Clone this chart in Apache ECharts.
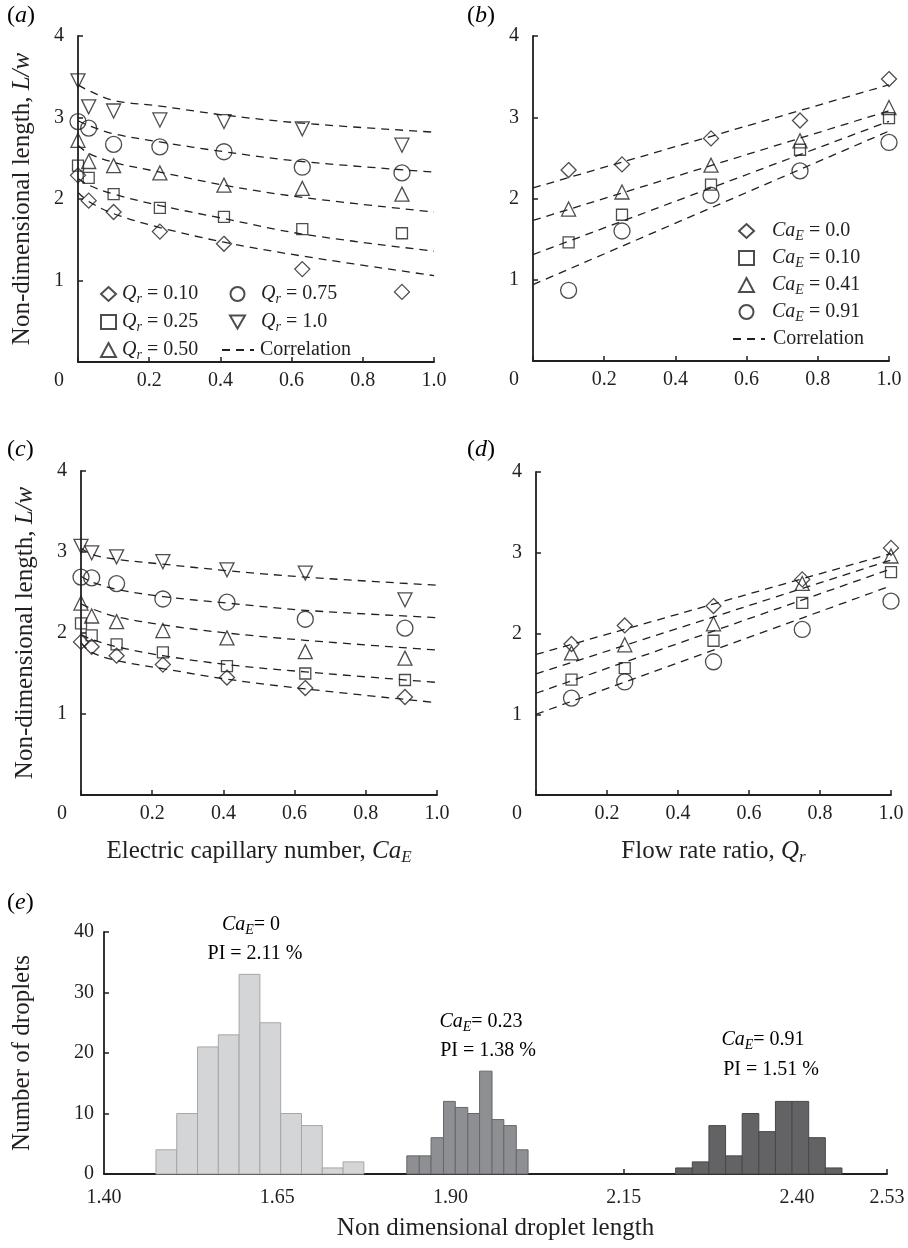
<!DOCTYPE html>
<html><head><meta charset="utf-8">
<script src="https://cdn.jsdelivr.net/npm/echarts@6/dist/echarts.min.js"></script>
<style>html,body{margin:0;padding:0;background:#fff}#c{width:908px;height:1248px}</style>
</head><body><div id="c"></div>
<script>
// ---------- DATA ----------
const caE = [0, 0.03, 0.10, 0.23, 0.41, 0.63, 0.91];
const corrCaE = [0, 0.03, 0.10, 0.23, 0.41, 0.63, 1.0];
const qr = [0.10, 0.25, 0.50, 0.75, 1.0];
const corrQr = [0, 1.0];

// panel (a): L/w vs Ca_E for Qr series
const aQ010 = [2.29, 1.98, 1.84, 1.60, 1.45, 1.14, 0.86];
const aQ025 = [2.41, 2.26, 2.06, 1.89, 1.78, 1.63, 1.58];
const aQ050 = [2.72, 2.46, 2.41, 2.32, 2.17, 2.13, 2.06];
const aQ075 = [2.95, 2.87, 2.67, 2.64, 2.58, 2.39, 2.32];
const aQ100 = [3.45, 3.13, 3.08, 2.97, 2.95, 2.86, 2.66];
const aC010 = [2.08, 1.97, 1.82, 1.65, 1.47, 1.30, 1.06];
const aC025 = [2.25, 2.17, 2.06, 1.92, 1.76, 1.57, 1.36];
const aC050 = [2.66, 2.56, 2.45, 2.33, 2.17, 2.02, 1.84];
const aC075 = [2.96, 2.90, 2.80, 2.70, 2.58, 2.46, 2.33];
const aC100 = [3.40, 3.33, 3.21, 3.14, 3.03, 2.93, 2.82];

// panel (b): L/w vs Qr for Ca_E series
const bCa000 = [2.35, 2.42, 2.74, 2.96, 3.47];
const bCa010 = [1.46, 1.80, 2.17, 2.60, 2.99];
const bCa041 = [1.87, 2.08, 2.41, 2.71, 3.12];
const bCa091 = [0.87, 1.60, 2.04, 2.34, 2.69];
const bC1 = [2.13, 3.40];
const bC2 = [1.73, 3.08];
const bC3 = [1.31, 2.95];
const bC4 = [0.94, 2.83];

// panel (c)
const cQ010 = [1.89, 1.83, 1.72, 1.61, 1.45, 1.32, 1.21];
const cQ025 = [2.12, 1.97, 1.86, 1.76, 1.59, 1.50, 1.42];
const cQ050 = [2.37, 2.21, 2.14, 2.03, 1.94, 1.77, 1.69];
const cQ075 = [2.69, 2.68, 2.61, 2.42, 2.38, 2.17, 2.06];
const cQ100 = [3.07, 2.99, 2.94, 2.88, 2.78, 2.74, 2.41];
const cC010 = [1.88, 1.76, 1.66, 1.56, 1.43, 1.31, 1.14];
const cC025 = [1.98, 1.92, 1.83, 1.72, 1.61, 1.52, 1.39];
const cC050 = [2.36, 2.30, 2.20, 2.10, 2.00, 1.91, 1.79];
const cC075 = [2.70, 2.63, 2.54, 2.45, 2.37, 2.28, 2.19];
const cC100 = [3.05, 2.97, 2.91, 2.85, 2.77, 2.69, 2.59];

// panel (d)
const dCa000 = [1.87, 2.10, 2.34, 2.67, 3.06];
const dCa010 = [1.43, 1.57, 1.91, 2.38, 2.76];
const dCa041 = [1.76, 1.86, 2.12, 2.62, 2.96];
const dCa091 = [1.20, 1.40, 1.65, 2.05, 2.40];
const dC1 = [1.74, 2.99];
const dC2 = [1.50, 2.91];
const dC3 = [1.26, 2.80];
const dC4 = [1.00, 2.59];

// panel (e): histograms (bin edges and counts)
const eEdges0 = [1.475, 1.505, 1.535, 1.565, 1.595, 1.625, 1.655, 1.685, 1.715, 1.745, 1.775];
const eCounts0 = [4, 10, 21, 23, 33, 25, 10, 8, 1, 2];
const eEdges23 = [1.837, 1.855, 1.872, 1.890, 1.907, 1.925, 1.942, 1.960, 1.977, 1.995, 2.012];
const eCounts23 = [3, 3, 6, 12, 11, 10, 17, 9, 8, 4];
const eEdges91 = [2.225, 2.249, 2.273, 2.297, 2.321, 2.345, 2.369, 2.393, 2.417, 2.441, 2.465];
const eCounts91 = [1, 2, 8, 3, 10, 7, 12, 12, 6, 1];
const eTickLabels = [1.40, 1.65, 1.90, 2.15, 2.40, 2.53];

// ---------- STYLE ----------
const F = "'Liberation Serif', 'Times New Roman', serif";
const C = '#231f20';
const richSmall = {
  n: {fontFamily: F, fontSize: 20, color: C},
  i: {fontFamily: F, fontSize: 20, fontStyle: 'italic', color: C},
  s: {fontFamily: F, fontSize: 14, fontStyle: 'italic', color: C, padding: [10, 0, 0, 0]}
};
const richBig = {
  n: {fontFamily: F, fontSize: 25, color: C},
  i: {fontFamily: F, fontSize: 25, fontStyle: 'italic', color: C},
  s: {fontFamily: F, fontSize: 17, fontStyle: 'italic', color: C, padding: [12, 0, 0, 0]}
};
const richPanel = {
  n: {fontFamily: F, fontSize: 24, color: C},
  i: {fontFamily: F, fontSize: 24, fontStyle: 'italic', color: C}
};

const pair = (xs, ys) => xs.map((x, i) => [x, ys[i]]);
const bins = (edges, counts) => counts.map((c, i) => [edges[i], edges[i + 1], c]);

const markers = {
  'Qr0.10': {symbol: 'diamond', size: 15, rot: 0},
  'Qr0.25': {symbol: 'rect', size: 11, rot: 0},
  'Qr0.50': {symbol: 'triangle', size: 14, rot: 0},
  'Qr0.75': {symbol: 'circle', size: 16, rot: 0},
  'Qr1.0': {symbol: 'triangle', size: 14, rot: 180},
  'Ca0.0': {symbol: 'diamond', size: 15, rot: 0},
  'Ca0.10': {symbol: 'rect', size: 11, rot: 0},
  'Ca0.41': {symbol: 'triangle', size: 14, rot: 0},
  'Ca0.91': {symbol: 'circle', size: 16, rot: 0}
};
const legendText = {
  'Qr0.10': '{i|Q}{s|r}{n| = 0.10}',
  'Qr0.25': '{i|Q}{s|r}{n| = 0.25}',
  'Qr0.50': '{i|Q}{s|r}{n| = 0.50}',
  'Qr0.75': '{i|Q}{s|r}{n| = 0.75}',
  'Qr1.0': '{i|Q}{s|r}{n| = 1.0}',
  'Ca0.0': '{i|Ca}{s|E}{n| = 0.0}',
  'Ca0.10': '{i|Ca}{s|E}{n| = 0.10}',
  'Ca0.41': '{i|Ca}{s|E}{n| = 0.41}',
  'Ca0.91': '{i|Ca}{s|E}{n| = 0.91}',
  'Correlation': '{n|Correlation}'
};

function scatter(name, g, data) {
  const m = markers[name];
  return {
    type: 'scatter', name: name, xAxisIndex: g, yAxisIndex: g, data: data,
    symbol: m.symbol, symbolSize: m.size, symbolRotate: m.rot,
    itemStyle: {color: 'rgba(0,0,0,0)', borderColor: C, borderWidth: 1.3},
    z: 5, silent: true
  };
}
function corr(g, data, smooth) {
  return {
    type: 'line', name: 'Correlation', xAxisIndex: g, yAxisIndex: g, data: data,
    symbol: 'none', smooth: smooth ? 0.35 : false,
    itemStyle: {color: 'rgba(0,0,0,0)', borderColor: 'rgba(0,0,0,0)', borderWidth: 0},
    lineStyle: {color: C, width: 1.3, type: [8, 6]}, z: 3, silent: true
  };
}
function hist(g, data, fill, stroke) {
  return {
    type: 'custom', xAxisIndex: g, yAxisIndex: g, data: data,
    encode: {x: [0, 1], y: 2}, silent: true,
    itemStyle: {color: fill},
    renderItem: function (params, api) {
      const p0 = api.coord([api.value(0), 0]);
      const p1 = api.coord([api.value(1), api.value(2)]);
      return {type: 'rect', shape: {x: p0[0], y: p1[1], width: p1[0] - p0[0], height: p0[1] - p1[1]},
        style: {fill: fill, stroke: stroke, lineWidth: 1}};
    }
  };
}

const axisLine = {show: true, onZero: false, lineStyle: {color: C, width: 1.8}};
const axisTick = {show: true, inside: true, length: 5, lineStyle: {color: C, width: 1.5}};
const lbl = {color: C, fontFamily: F, fontSize: 20};

function xAxisUnit(g, name) {
  return {
    gridIndex: g, type: 'value', min: 0, max: 1, interval: 0.2,
    axisLine, axisTick, splitLine: {show: false},
    axisLabel: Object.assign({}, lbl, {
      margin: 9, showMinLabel: true, showMaxLabel: true,
      formatter: v => v === 0 ? '{z|0}' : v.toFixed(1),
      rich: {z: {fontFamily: F, fontSize: 20, color: C, padding: [0, 38, 0, 0]}}
    }),
    name: name || '', nameLocation: 'middle', nameGap: 42,
    nameTextStyle: {rich: richBig}
  };
}
function yAxisUnit(g, name) {
  return {
    gridIndex: g, type: 'value', min: 0, max: 4, interval: 1,
    axisLine, axisTick, splitLine: {show: false},
    axisLabel: Object.assign({}, lbl, {margin: 14, formatter: v => v === 0 ? '' : String(v)}),
    name: name || '', nameLocation: 'middle', nameGap: 43,
    nameTextStyle: {rich: richBig}
  };
}
const yTitle = '{n|Non-dimensional length, }{i|L/w}';

function legItem(n) {
  if (n === 'Correlation') return {name: n, itemStyle: {opacity: 0}};
  if (n === 'Qr1.0') return {name: n, icon: 'path://M0,0 L12,0 L6,10.4 Z'};
  return n;
}
function legend(left, top, itemWidth, spacer, gap, names) {
  return {
    orient: 'vertical', left: left, top: top, itemWidth: itemWidth, itemHeight: 14,
    itemGap: gap, selectedMode: false,
    formatter: n => '{w| }' + legendText[n],
    textStyle: {rich: Object.assign({w: {width: spacer, fontSize: 20}}, richSmall), lineHeight: 22},
    data: names.map(legItem)
  };
}

function panelLabel(letter, x, y) {
  return {type: 'text', left: x, top: y, silent: true,
    style: {text: '{n|(}{i|' + letter + '}{n|)}', rich: richPanel}};
}
function note(text, x, y) {
  return {type: 'text', x: x, y: y, silent: true,
    style: {text: text, rich: richSmall, align: 'center', verticalAlign: 'middle'}};
}

const option = {
  animation: false,
  backgroundColor: '#fff',
  grid: [
    {left: 78, top: 36, width: 356, height: 326},
    {left: 533, top: 36, width: 356, height: 325},
    {left: 81, top: 471, width: 356, height: 324},
    {left: 536, top: 472, width: 355, height: 323},
    {left: 104, top: 932, width: 783, height: 242}
  ],
  xAxis: [
    xAxisUnit(0), xAxisUnit(1),
    xAxisUnit(2, '{n|Electric capillary number, }{i|Ca}{s|E}'),
    xAxisUnit(3, '{n|Flow rate ratio, }{i|Q}{s|r}'),
    {
      gridIndex: 4, type: 'value', min: 1.40, max: 2.53,
      axisLine, splitLine: {show: false},
      axisTick: Object.assign({}, axisTick, {customValues: [1.65, 1.90, 2.15, 2.40, 2.53]}),
      axisLabel: Object.assign({}, lbl, {margin: 14, customValues: eTickLabels, formatter: v => v.toFixed(2)}),
      name: '{n|Non dimensional droplet length}', nameLocation: 'middle', nameGap: 42,
      nameTextStyle: {rich: richBig}
    }
  ],
  yAxis: [
    yAxisUnit(0, yTitle), yAxisUnit(1), yAxisUnit(2, yTitle), yAxisUnit(3),
    {
      gridIndex: 4, type: 'value', min: 0, max: 40, interval: 10,
      axisLine, axisTick, splitLine: {show: false},
      axisLabel: Object.assign({}, lbl, {margin: 10}),
      name: '{n|Number of droplets}', nameLocation: 'middle', nameGap: 69,
      nameTextStyle: {rich: richBig}
    }
  ],
  legend: [
    legend(95, 278, 15, 1, 5, ['Qr0.10', 'Qr0.25', 'Qr0.50']),
    legend(224, 278, 15, 11, 5, ['Qr0.75', 'Qr1.0']),
    legend(216, 334, 32, 1, 5, ['Correlation']),
    legend(733, 215, 15, 13, 4, ['Ca0.0', 'Ca0.10', 'Ca0.41', 'Ca0.91']),
    legend(727, 323, 32, 3, 4, ['Correlation'])
  ],
  graphic: [
    panelLabel('a', 7, 4), panelLabel('b', 467, 4),
    panelLabel('c', 7, 438), panelLabel('d', 467, 438), panelLabel('e', 7, 891),
    note('{i|Ca}{s|E}{n|= 0}', 251, 925),
    note('{n|PI = 2.11 %}', 255, 954),
    note('{i|Ca}{s|E}{n|= 0.23}', 481, 1022),
    note('{n|PI = 1.38 %}', 488, 1051),
    note('{i|Ca}{s|E}{n|= 0.91}', 763, 1040),
    note('{n|PI = 1.51 %}', 771, 1070)
  ],
  series: [
    // (a)
    corr(0, pair(corrCaE, aC010), true), corr(0, pair(corrCaE, aC025), true),
    corr(0, pair(corrCaE, aC050), true), corr(0, pair(corrCaE, aC075), true),
    corr(0, pair(corrCaE, aC100), true),
    scatter('Qr0.10', 0, pair(caE, aQ010)), scatter('Qr0.25', 0, pair(caE, aQ025)),
    scatter('Qr0.50', 0, pair(caE, aQ050)), scatter('Qr0.75', 0, pair(caE, aQ075)),
    scatter('Qr1.0', 0, pair(caE, aQ100)),
    // (b)
    corr(1, pair(corrQr, bC1)), corr(1, pair(corrQr, bC2)),
    corr(1, pair(corrQr, bC3)), corr(1, pair(corrQr, bC4)),
    scatter('Ca0.0', 1, pair(qr, bCa000)), scatter('Ca0.10', 1, pair(qr, bCa010)),
    scatter('Ca0.41', 1, pair(qr, bCa041)), scatter('Ca0.91', 1, pair(qr, bCa091)),
    // (c)
    corr(2, pair(corrCaE, cC010), true), corr(2, pair(corrCaE, cC025), true),
    corr(2, pair(corrCaE, cC050), true), corr(2, pair(corrCaE, cC075), true),
    corr(2, pair(corrCaE, cC100), true),
    scatter('Qr0.10', 2, pair(caE, cQ010)), scatter('Qr0.25', 2, pair(caE, cQ025)),
    scatter('Qr0.50', 2, pair(caE, cQ050)), scatter('Qr0.75', 2, pair(caE, cQ075)),
    scatter('Qr1.0', 2, pair(caE, cQ100)),
    // (d)
    corr(3, pair(corrQr, dC1)), corr(3, pair(corrQr, dC2)),
    corr(3, pair(corrQr, dC3)), corr(3, pair(corrQr, dC4)),
    scatter('Ca0.0', 3, pair(qr, dCa000)), scatter('Ca0.10', 3, pair(qr, dCa010)),
    scatter('Ca0.41', 3, pair(qr, dCa041)), scatter('Ca0.91', 3, pair(qr, dCa091)),
    // (e)
    hist(4, bins(eEdges0, eCounts0), '#d4d5d7', '#a5a6a8'),
    hist(4, bins(eEdges23, eCounts23), '#8e8f92', '#66676a'),
    hist(4, bins(eEdges91, eCounts91), '#636365', '#48484a')
  ]
};
const chart = echarts.init(document.getElementById('c'), null, {renderer: 'canvas'});
chart.setOption(option);
</script></body></html>
